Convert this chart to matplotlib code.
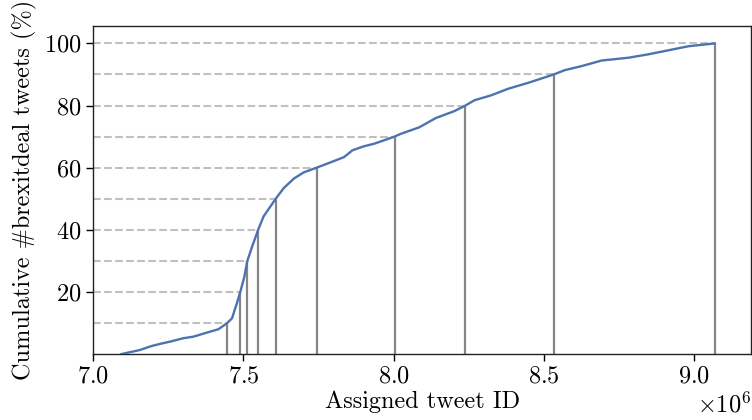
import numpy as np
import matplotlib
matplotlib.use("Agg")
import matplotlib.pyplot as plt

# Cumulative share of #brexitdeal tweets against assigned tweet ID
tweet_ids = np.array([
    7.094, 7.155, 7.1945, 7.228, 7.256, 7.300, 7.3335, 7.378, 7.417, 7.446,
    7.462, 7.478, 7.4896, 7.503, 7.513, 7.529, 7.549, 7.567, 7.6075, 7.634,
    7.668, 7.701, 7.7435, 7.779, 7.835, 7.863, 7.9015, 7.935, 8.003, 8.024,
    8.0855, 8.141, 8.202, 8.239, 8.269, 8.325, 8.381, 8.4475, 8.533, 8.570,
    8.626, 8.6925, 8.782, 8.8485, 8.915, 8.982, 9.069,
]) * 1e6
cum_pct = np.array([
    0.0, 1.3, 2.6, 3.4, 4.0, 5.1, 5.6, 6.9, 8.0, 10.0,
    11.5, 16.3, 20.0, 24.9, 30.0, 34.6, 40.0, 44.3, 50.0, 53.4,
    56.5, 58.5, 60.0, 61.3, 63.4, 65.6, 66.9, 67.7, 70.0, 70.9,
    73.0, 76.0, 78.2, 80.0, 81.7, 83.3, 85.4, 87.3, 90.0, 91.4,
    92.7, 94.5, 95.4, 96.5, 97.8, 99.1, 100.0,
])

# Tweet ID at which each decile of the cumulative share is reached
decile_pct = np.array([10, 20, 30, 40, 50, 60, 70, 80, 90, 100])
decile_ids = np.array([
    7.446, 7.4896, 7.513, 7.549, 7.6075, 7.7435, 8.003, 8.239, 8.533, 9.069,
]) * 1e6

y_ticks = [20, 40, 60, 80, 100]
x_ticks = np.array([7.0, 7.5, 8.0, 8.5, 9.0]) * 1e6

plt.rcParams["font.family"] = "cmr10"
plt.rcParams["mathtext.fontset"] = "cm"
plt.rcParams["axes.formatter.use_mathtext"] = True
plt.rcParams["axes.unicode_minus"] = False

fs = 17.5
fig = plt.figure(figsize=(7.52, 4.2), dpi=100)
ax = fig.add_axes([0.124, 0.157, 0.8747, 0.781])

x_left, x_right = 7.0e6, 9.19e6

ax.hlines(decile_pct, x_left, decile_ids, colors="#c0c0c0",
          linestyles="--", linewidth=1.5, zorder=1)
ax.vlines(decile_ids, 0, decile_pct, colors="#858585",
          linewidth=1.6, zorder=2)
ax.plot(tweet_ids, cum_pct, color="#4C72B0", linewidth=1.7, zorder=3)

ax.set_xlim(x_left, x_right)
ax.set_ylim(0, 105.6)
ax.set_xticks(x_ticks)
ax.set_yticks(y_ticks)
ax.ticklabel_format(axis="x", style="sci", scilimits=(6, 6))

ax.tick_params(labelsize=fs, direction="out", length=5, width=1)
ax.xaxis.get_offset_text().set_fontsize(fs)
for sp in ax.spines.values():
    sp.set_linewidth(1)
    sp.set_color("#222222")

ax.set_xlabel("Assigned tweet ID", fontsize=fs, labelpad=2)
ax.set_ylabel("Cumulative #brexitdeal tweets (%)", fontsize=fs, labelpad=5)

fig.savefig("out.png", dpi=100)
